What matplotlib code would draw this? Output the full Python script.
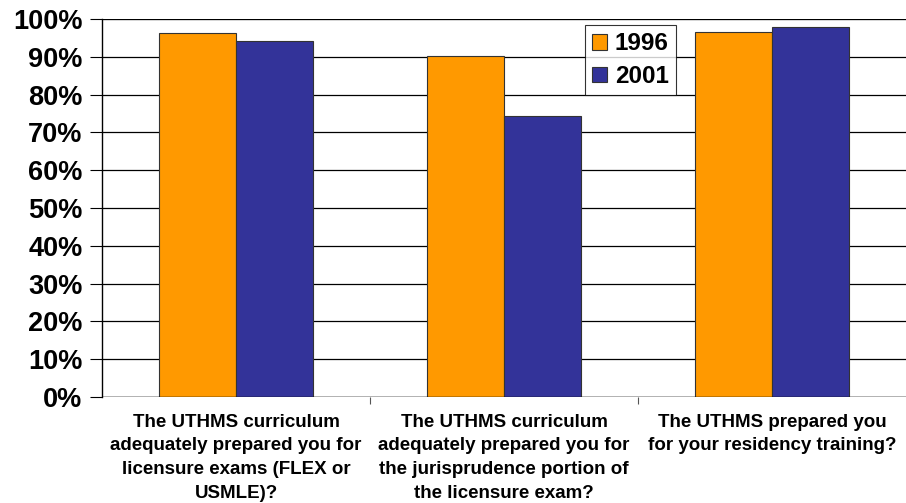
import matplotlib
matplotlib.use("Agg")
import matplotlib.pyplot as plt
import numpy as np
from matplotlib.ticker import FuncFormatter, MultipleLocator

categories = [
    "The UTHMS curriculum\nadequately prepared you for\nlicensure exams (FLEX or\nUSMLE)?",
    "The UTHMS curriculum\nadequately prepared you for\nthe jurisprudence portion of\nthe licensure exam?",
    "The UTHMS prepared you\nfor your residency training?",
]
series_names = ["1996", "2001"]
values_1996 = [96.3, 90.2, 96.5]
values_2001 = [94.2, 74.4, 97.9]
colors = ["#FF9900", "#333399"]

plt.rcParams["font.family"] = ["Liberation Sans", "DejaVu Sans"]
fig = plt.figure(figsize=(9.06, 5.03), dpi=100)
ax = fig.add_axes([102/906, 1 - 397/503, (906-102)/906, (397-19)/503])

x = np.arange(len(categories))
w = 0.287
ax.bar(x - w/2, values_1996, w, color=colors[0], edgecolor="#333333", linewidth=0.8, label=series_names[0], zorder=3)
ax.bar(x + w/2, values_2001, w, color=colors[1], edgecolor="#333333", linewidth=0.8, label=series_names[1], zorder=3)

ax.set_xlim(-0.5, 2.5)
ax.set_ylim(0, 100)
ax.yaxis.set_major_locator(MultipleLocator(10))
ax.yaxis.set_major_formatter(FuncFormatter(lambda v, p: f"{int(v)}%"))
ax.grid(axis="y", color="black", linewidth=0.9, zorder=0)
for s in ["right", "bottom", "top"]:
    ax.spines[s].set_visible(False)
ax.spines["left"].set_linewidth(1.0)
ax.axhline(0, color="black", linewidth=1.0, zorder=4)
ax.axhline(100, color="black", linewidth=1.5, zorder=4)

ax.set_xticks(x)
ax.set_xticklabels(categories, fontsize=13.5, fontweight="bold", linespacing=1.52)
ax.tick_params(axis="x", length=0, pad=12)
ax.set_xticks([0.5, 1.5], minor=True)
ax.tick_params(axis="x", which="minor", length=5, width=0.8, color="#555555")
ax.tick_params(axis="y", labelsize=19.5, length=9, width=0.8, pad=5)
for lab in ax.get_yticklabels():
    lab.set_fontweight("bold")

leg = ax.legend(loc="upper left", prop={"size": 17.5, "weight": "bold"}, frameon=True, fancybox=False,
                edgecolor="black", handlelength=0.62, handleheight=0.62, handletextpad=0.3,
                borderpad=0.3, labelspacing=0.4, borderaxespad=0)
leg.set_bbox_to_anchor((585/906, 1 - 25/503), transform=fig.transFigure)
leg.get_frame().set_linewidth(0.8)

fig.savefig("out.png", dpi=100)
